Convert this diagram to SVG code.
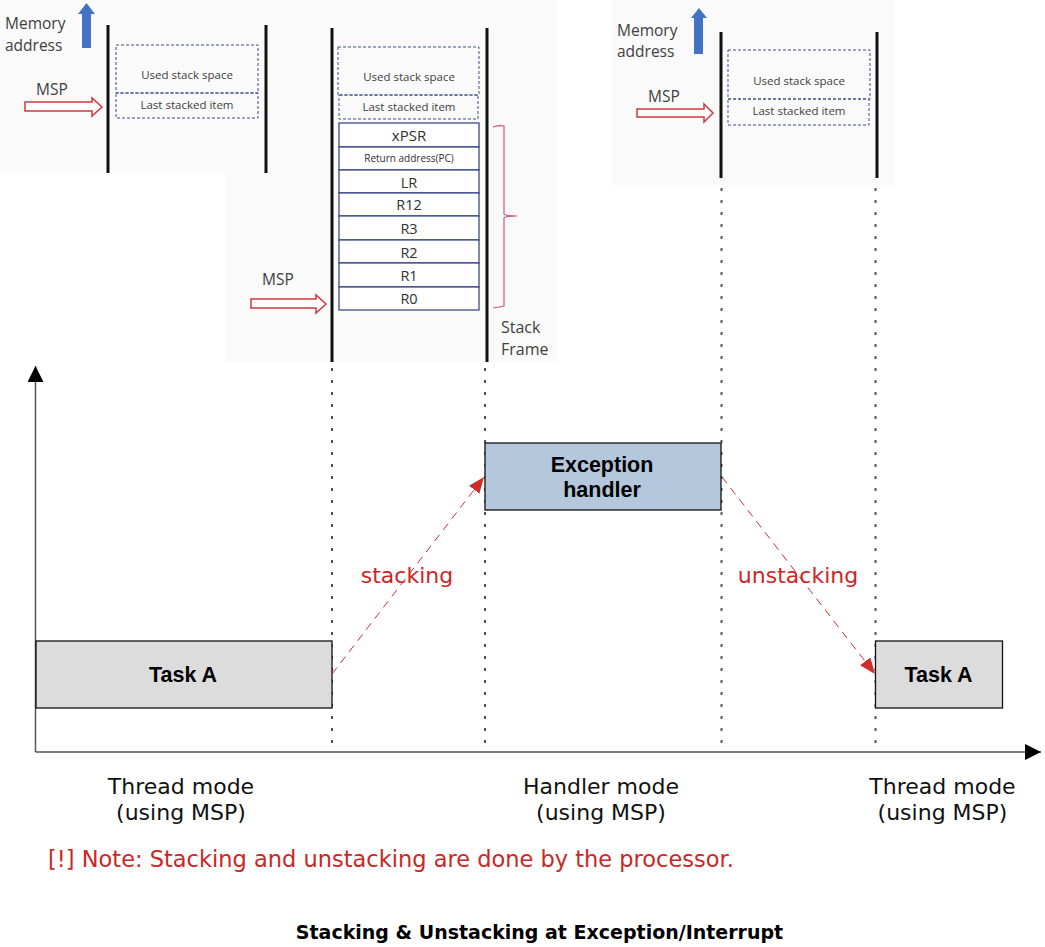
<svg xmlns="http://www.w3.org/2000/svg" width="1045" height="947" viewBox="0 0 1045 947">
<style>
.bg{fill:#ffffff}
.panel{fill:#fafafa}
.wall{stroke:#111;stroke-width:3}
.used{fill:none;stroke:#3d4f8a;stroke-width:1;stroke-dasharray:3 2}
.row{fill:#ffffff;stroke:#2d3c7c;stroke-width:1.2}
.ptxt{font-family:"Open Sans","Noto Sans",sans-serif;fill:#404040}
.small{font-size:11.5px;text-anchor:middle}
.reg{font-size:14.5px;text-anchor:middle;fill:#303030}
.lbl{font-size:15.5px}
.msp{fill:#ffffff;stroke:#d0393f;stroke-width:1.5}
.up{fill:#4472c4}
.dot{stroke:#555;stroke-width:2;stroke-dasharray:3 9;fill:none}
.axis{stroke:#555;stroke-width:1.5;fill:none}
.flow{stroke:#d12c2c;stroke-width:1;stroke-dasharray:8 6;fill:none}
.box{stroke:#111;stroke-width:1.3}
.btxt{font-family:"Liberation Sans",Arial,sans-serif;font-weight:bold;font-size:21.5px;fill:#000;text-anchor:middle}
.mtxt{font-family:"DejaVu Sans",sans-serif;font-size:22px;fill:#111;text-anchor:middle}
.red{font-family:"DejaVu Sans",sans-serif;font-size:22px;fill:#cc2626}
</style>
<defs>
<marker id="ah" markerUnits="userSpaceOnUse" markerWidth="18" markerHeight="14" refX="16" refY="6.5" orient="auto">
<path d="M0,0 L16,6.5 L0,13 z" fill="#d12c2c"/>
</marker>
<marker id="ax" markerUnits="userSpaceOnUse" markerWidth="18" markerHeight="18" refX="16" refY="8" orient="auto">
<path d="M0,0 L16,8 L0,16 z" fill="#000"/>
</marker>
</defs>
<rect class="bg" x="0" y="0" width="1045" height="947"/>

<g id="panel-backgrounds">
<rect class="panel" x="225" y="0" width="332" height="362"/>
<rect class="panel" x="0" y="0" width="225" height="173"/>
<rect class="panel" x="612" y="0" width="283" height="185"/>
</g>

<!-- top panels -->
<g id="panel-before">
<text class="ptxt lbl" x="5" y="29">Memory</text>
<text class="ptxt lbl" x="5" y="51">address</text>
<polygon class="up" points="86.5,3 95,14 91,14 91,48 82,48 82,14 78,14"/>
<line class="wall" x1="108" y1="25" x2="108" y2="173"/>
<line class="wall" x1="266" y1="25" x2="266" y2="173"/>
<rect class="used" x="116" y="45" width="142" height="48"/>
<rect class="used" x="116" y="93" width="142" height="25"/>
<text class="ptxt small" x="187" y="79">Used stack space</text>
<text class="ptxt small" x="187" y="109">Last stacked item</text>
<text class="ptxt lbl" x="36" y="95">MSP</text>
<polygon class="msp" points="25,102 92,102 92,98 102,107 92,116 92,111 25,111"/>
</g>

<g id="panel-stacked">
<line class="wall" x1="332" y1="28" x2="332" y2="362"/>
<line class="wall" x1="487" y1="28" x2="487" y2="362"/>
<rect class="used" x="338" y="47" width="141" height="48"/>
<rect class="used" x="339" y="95" width="139" height="24"/>
<text class="ptxt small" x="409" y="81">Used stack space</text>
<text class="ptxt small" x="409" y="111">Last stacked item</text>
<rect class="row" x="339" y="123" width="140" height="24"/>
<rect class="row" x="339" y="147" width="140" height="23"/>
<rect class="row" x="339" y="170" width="140" height="23"/>
<rect class="row" x="339" y="193" width="140" height="23"/>
<rect class="row" x="339" y="216" width="140" height="24"/>
<rect class="row" x="339" y="240" width="140" height="23"/>
<rect class="row" x="339" y="263" width="140" height="24"/>
<rect class="row" x="339" y="287" width="140" height="23"/>
<text class="ptxt reg" x="409" y="141" style="font-size:15px">xPSR</text>
<text class="ptxt reg" x="409" y="162" style="font-size:10px">Return address(PC)</text>
<text class="ptxt reg" x="409" y="188">LR</text>
<text class="ptxt reg" x="409" y="210">R12</text>
<text class="ptxt reg" x="409" y="234">R3</text>
<text class="ptxt reg" x="409" y="258">R2</text>
<text class="ptxt reg" x="409" y="281">R1</text>
<text class="ptxt reg" x="409" y="304">R0</text>
<path d="M493,127 Q500,125 504,126 L504,214 Q505,216 517,216 Q505,216 504,218 L504,306 Q500,307 493,308" fill="none" stroke="#d0576d" stroke-width="1.2"/>
<text class="ptxt" x="501" y="333" style="font-size:16px">Stack</text>
<text class="ptxt" x="501" y="355" style="font-size:16px">Frame</text>
<text class="ptxt lbl" x="262" y="285">MSP</text>
<polygon class="msp" points="251,299 316,299 316,295 326,304 316,313 316,308 251,308"/>
</g>

<g id="panel-after">
<text class="ptxt lbl" x="617" y="36">Memory</text>
<text class="ptxt lbl" x="617" y="57">address</text>
<polygon class="up" points="699,8 707,18 703,18 703,54 694,54 694,18 691,18"/>
<line class="wall" x1="721" y1="32" x2="721" y2="178"/>
<line class="wall" x1="877" y1="32" x2="877" y2="178"/>
<rect class="used" x="728" y="50" width="142" height="49"/>
<rect class="used" x="728" y="99" width="141" height="26"/>
<text class="ptxt small" x="799" y="85">Used stack space</text>
<text class="ptxt small" x="799" y="115">Last stacked item</text>
<text class="ptxt lbl" x="648" y="102">MSP</text>
<polygon class="msp" points="637,109 704,109 704,104 713,113 704,122 704,117 637,117"/>
</g>

<!-- guides and axes -->
<g id="guides">
<line class="dot" x1="332" y1="368" x2="332" y2="752"/>
<line class="dot" x1="485" y1="368" x2="485" y2="752"/>
<line class="dot" x1="721.5" y1="188" x2="721.5" y2="752"/>
<line class="dot" x1="875.5" y1="188" x2="875.5" y2="752"/>
</g>
<g id="axes">
<line class="axis" x1="35.5" y1="752" x2="35.5" y2="366" marker-end="url(#ax)"/>
<line class="axis" x1="35.5" y1="752" x2="1041" y2="752" marker-end="url(#ax)"/>
</g>

<g id="task-a-1">
<rect class="box" x="36" y="641" width="296" height="67" fill="#dcdcdc"/>
<text class="btxt" x="183" y="682">Task A</text>
</g>
<g id="exception-handler">
<rect class="box" x="485" y="443" width="236" height="67" fill="#b4c7dc"/>
<text class="btxt" x="602" y="472">Exception</text>
<text class="btxt" x="602" y="497">handler</text>
</g>
<g id="task-a-2">
<rect class="box" x="875.5" y="641" width="127" height="67" fill="#dcdcdc"/>
<text class="btxt" x="938.5" y="682">Task A</text>
</g>

<g id="connectors">
<line class="flow" x1="332" y1="674" x2="484" y2="477" marker-end="url(#ah)"/>
<line class="flow" x1="722" y1="477" x2="875" y2="674" marker-end="url(#ah)"/>
<text class="red" x="407" y="583" text-anchor="middle">stacking</text>
<text class="red" x="798" y="583" text-anchor="middle">unstacking</text>
</g>

<g id="mode-labels">
<text class="mtxt" x="181" y="794">Thread mode</text>
<text class="mtxt" x="181" y="820">(using MSP)</text>
<text class="mtxt" x="601" y="794">Handler mode</text>
<text class="mtxt" x="601" y="820">(using MSP)</text>
<text class="mtxt" x="942.5" y="794">Thread mode</text>
<text class="mtxt" x="942.5" y="820">(using MSP)</text>
</g>

<text class="red" x="48" y="867" style="font-size:22.5px">[!] Note: Stacking and unstacking are done by the processor.</text>
<text x="539.5" y="939" text-anchor="middle" style="font-family:'DejaVu Sans',sans-serif;font-weight:bold;font-size:19px;fill:#000">Stacking &amp; Unstacking at Exception/Interrupt</text>
</svg>
